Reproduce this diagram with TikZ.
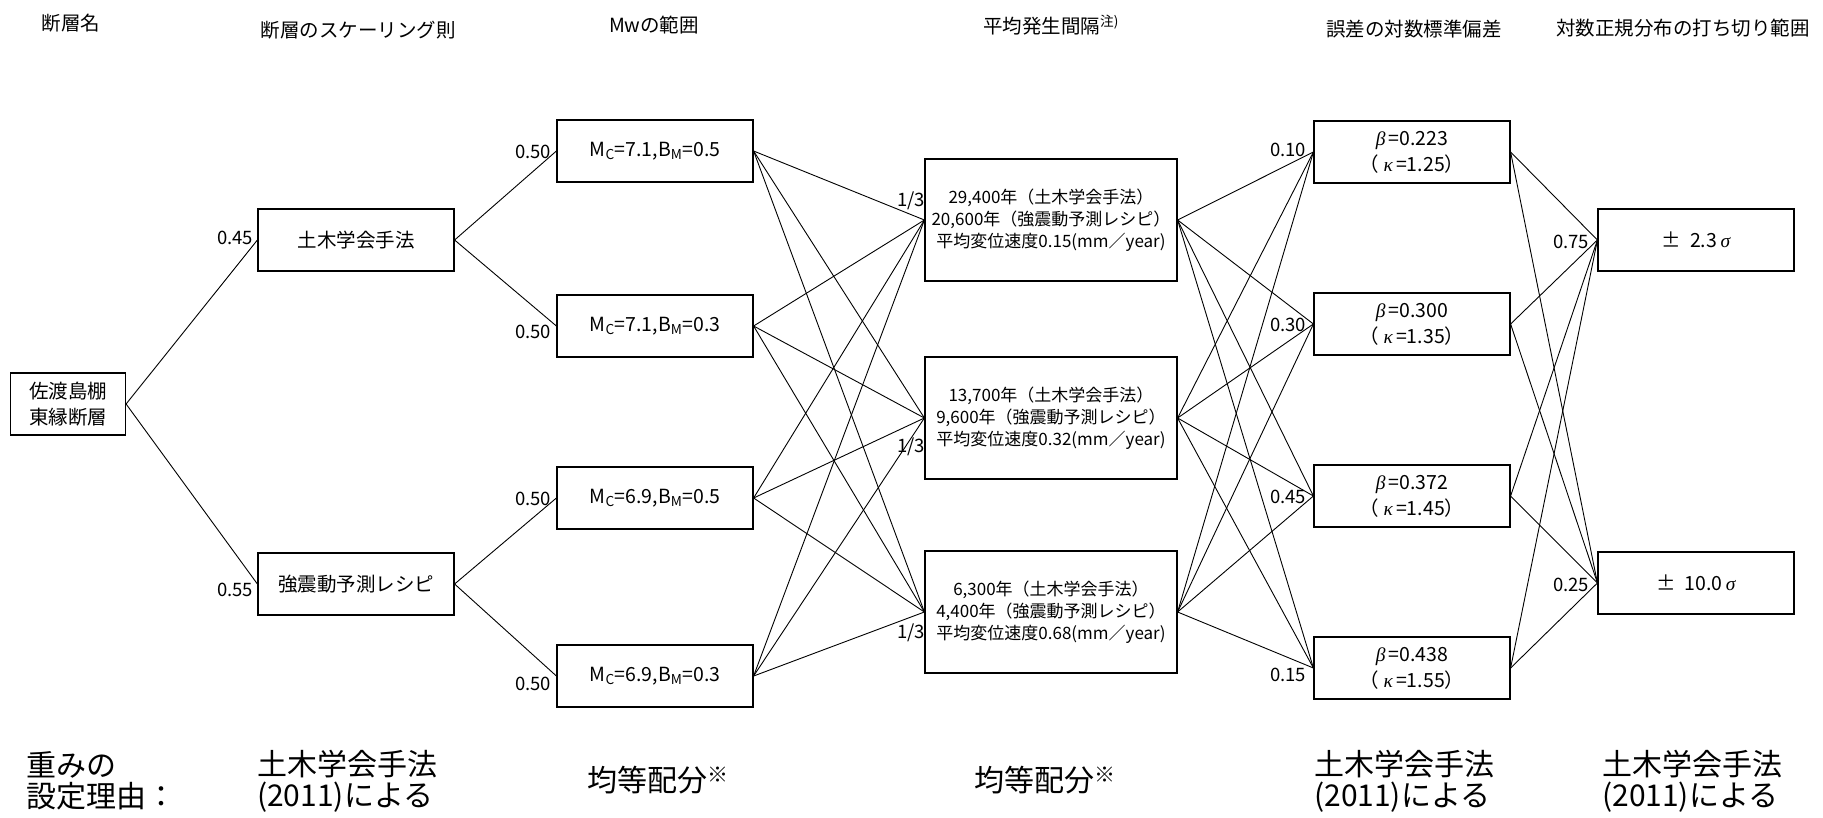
\documentclass[tikz,border=0pt]{standalone}
\usepackage{fontspec}
\setmainfont{Noto Sans CJK JP}
\newfontfamily\grk{Liberation Serif}
\newcommand{\gk}[1]{{\grk\itshape #1}}
\begin{document}
\begin{tikzpicture}[x=1pt, y=-1pt,
  branch/.style={draw, line width=1.2pt, minimum width=196pt, minimum height=62pt, inner sep=0pt, align=center, font=\fontsize{19.5}{26}\selectfont},
  interval/.style={branch, minimum width=252pt, minimum height=122pt, font=\fontsize{17}{22}\selectfont},
  wt/.style={anchor=east, inner sep=0pt, font=\fontsize{18.5}{20}\selectfont},
  head/.style={inner sep=0pt, font=\fontsize{19.5}{24}\selectfont},
  reason/.style={anchor=west, inner sep=0pt, align=left, font=\fontsize{30}{31}\selectfont},
  wire/.style={line width=0.9pt}
]
\useasboundingbox (0,0) rectangle (1823,817);

\node[head] (hfault) at (71,23) {断層名};
\node[head] (hscale) at (358,30) {断層のスケーリング則};
\node[head] (hmw) at (654,25) {Mwの範囲};
\node[head] (hint) at (1051,25) {平均発生間隔\textsuperscript{注)}};
\node[head] (hsd) at (1414,29) {誤差の対数標準偏差};
\node[head] (htr) at (1683,28) {対数正規分布の打ち切り範囲};

\node[branch, minimum width=115pt] (fault) at (68,404) {佐渡島棚\\東縁断層};
\node[branch] (jsce) at (356,240) {土木学会手法};
\node[branch] (recipe) at (356,584) {強震動予測レシピ};

\foreach \n/\y/\c/\b in {mwa/151/7.1/0.5, mwb/326/7.1/0.3, mwc/498/6.9/0.5, mwd/676/6.9/0.3} {
  \node[branch] (\n) at (655,\y) {M\textsubscript{C}=\c,B\textsubscript{M}=\b};
}

\node[interval] (ria) at (1051,220) {29,400年（土木学会手法）\\20,600年（強震動予測レシピ）\\平均変位速度0.15(mm／year)};
\node[interval] (rib) at (1051,418) {13,700年（土木学会手法）\\9,600年（強震動予測レシピ）\\平均変位速度0.32(mm／year)};
\node[interval] (ric) at (1051,612) {6,300年（土木学会手法）\\4,400年（強震動予測レシピ）\\平均変位速度0.68(mm／year)};

\foreach \n/\y/\b/\k in {sda/152/0.223/1.25, sdb/324/0.300/1.35, sdc/496/0.372/1.45, sdd/668/0.438/1.55} {
  \node[branch] (\n) at (1412,\y) {\gk{β}\,=\b\\（ \gk{κ}\,=\k）};
}

\node[branch] (tra) at (1696,240) {±\hspace{0.45em}2.3\,\gk{σ}};
\node[branch] (trb) at (1696,583) {±\hspace{0.45em}10.0\,\gk{σ}};

\draw[wire] (jsce.west) -- (fault.east) -- (recipe.west);
\draw[wire] (mwa.west) -- (jsce.east) -- (mwb.west);
\draw[wire] (mwc.west) -- (recipe.east) -- (mwd.west);
\foreach \a in {mwa,mwb,mwc,mwd}
  \foreach \b in {ria,rib,ric}
    \draw[wire] (\a.east) -- (\b.west);
\foreach \a in {ria,rib,ric}
  \foreach \b in {sda,sdb,sdc,sdd}
    \draw[wire] (\a.east) -- (\b.west);
\foreach \a in {sda,sdb,sdc,sdd}
  \foreach \b in {tra,trb}
    \draw[wire] (\a.east) -- (\b.west);

\node[wt] (wjsce) at ([xshift=-4pt, yshift=2pt]jsce.west) {0.45};
\node[wt] (wrecipe) at ([xshift=-4pt, yshift=-6pt]recipe.west) {0.55};
\foreach \n/\t/\dx/\dy in {mwa/0.50/-5/-1, mwb/0.50/-5/-6, mwc/0.50/-5/-1, mwd/0.50/-5/-8,
    sda/0.10/-7/2, sdb/0.30/-7/-1, sdc/0.45/-7/-1, sdd/0.15/-7/-7,
    tra/0.75/-8/-2, trb/0.25/-8/-2} {
  \node[wt] (w\n) at ([xshift=\dx pt, yshift=\dy pt]\n.west) {\t};
}
\node[wt] (wria) at ([xshift=1pt, yshift=19pt]ria.west) {1/3};
\node[wt] (wrib) at ([xshift=1pt, yshift=-29pt]rib.west) {1/3};
\node[wt] (wric) at ([xshift=1pt, yshift=-21pt]ric.west) {1/3};

\node[reason] (rs0) at (26,781) {重みの\\設定理由：};
\node[reason] (rs1) at (257,781) {土木学会手法\\(2011)による};
\node[reason] (rs2) at (587,780) {均等配分\textsuperscript{※}};
\node[reason] (rs3) at (974,780) {均等配分\textsuperscript{※}};
\node[reason] (rs4) at (1314,781) {土木学会手法\\(2011)による};
\node[reason] (rs5) at (1602,781) {土木学会手法\\(2011)による};
\end{tikzpicture}
\end{document}
